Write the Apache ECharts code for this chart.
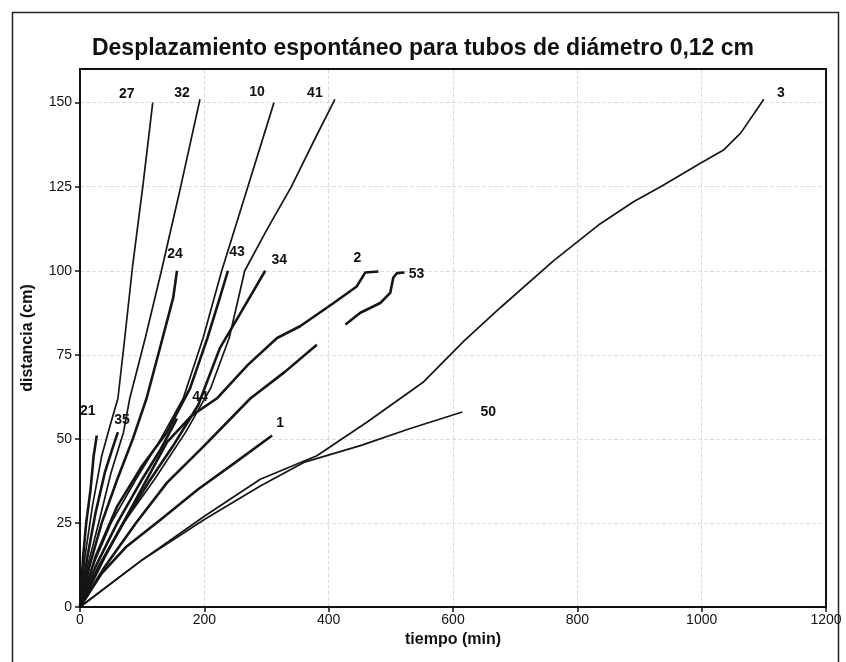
<!DOCTYPE html>
<html><head><meta charset="utf-8">
<script src="https://cdn.jsdelivr.net/npm/echarts@6/dist/echarts.min.js"></script>
<style>html,body{margin:0;padding:0;background:#fff}#c{width:846px;height:662px}</style>
</head><body><div id="c"></div>
<script>
// ---- data (tiempo [min], distancia [cm]) ----
var title = "Desplazamiento espontáneo para tubos de diámetro 0,12 cm";
var xName = "tiempo (min)";
var yName = "distancia (cm)";
var xTicks = [0, 200, 400, 600, 800, 1000, 1200];
var yTicks = [0, 25, 50, 75, 100, 125, 150];

var s27 = [[0,0],[8,15],[20,30],[35,45],[50,55],[61,62],[72,80],[85,102],[101,125],[117,150]];
var s32 = [[0,0],[12,12],[30,25],[50,40],[70,52],[80,62],[105,80],[131,100],[162,125],[193,151]];
var s24 = [[0,0],[15,12],[35,25],[60,38],[85,50],[107,62],[130,78],[150,92],[156,100]];
var s10 = [[0,0],[20,12],[50,25],[90,38],[130,50],[166,62],[198,80],[228,100],[270,125],[312,150]];
var s43 = [[0,0],[25,15],[60,30],[100,42],[140,52],[177,65],[205,80],[225,92],[238,100]];
var s41 = [[0,0],[30,12],[70,25],[120,38],[170,52],[210,65],[240,80],[265,100],[300,112],[340,125],[380,140],[410,151]];
var s34 = [[0,0],[30,12],[70,25],[110,37],[150,48],[190,60],[225,77],[260,88],[298,100]];
var s2  = [[0,0],[40,15],[90,32],[140,49],[180,57],[220,62],[270,72],[317,80],[354,83.5],[408,90.4],[445,95.3],[459,99.5],[480,99.8]];
var s53 = [[427,84],[451,87.5],[483,90.4],[499,93.4],[504,98],[510,99.3],[522,99.5]];
var sU  = [[0,0],[40,12],[90,25],[140,37],[200,48],[274,62],[330,70],[381,78]];
var s44 = [[0,0],[25,12],[60,25],[100,38],[130,47],[156,56]];
var s1  = [[0,0],[35,10],[75,18],[130,26],[190,35],[250,43],[309,51]];
var s21 = [[0,0],[5,15],[10,25],[17,35],[22,45],[27,51]];
var s35 = [[0,0],[12,15],[25,28],[40,40],[52,47],[61,52]];
var s3  = [[0,0],[100,14],[200,27],[290,38],[381,45],[462,55],[553,67],[617,79],[676,89],[762,103],[837,114],[891,120.6],[934,125],[998,132],[1036,136],[1063,141],[1100,151]];
var s50 = [[0,0],[100,14],[200,26],[290,36],[360,43],[451,48],[530,53],[615,58]];

var seriesList = [
  {name:'27', data:s27, hairy:false, off:[-26,-8]},
  {name:'32', data:s32, hairy:false, off:[-18,-6]},
  {name:'24', data:s24, hairy:true,  off:[-2,-17]},
  {name:'10', data:s10, hairy:false, off:[-17,-10]},
  {name:'43', data:s43, hairy:true,  off:[9,-19]},
  {name:'41', data:s41, hairy:false, off:[-20,-6]},
  {name:'34', data:s34, hairy:true,  off:[14,-11]},
  {name:'2',  data:s2,  hairy:true,  off:[-21,-13]},
  {name:'53', data:s53, hairy:true,  off:[12,2]},
  {name:'',   data:sU,  hairy:true,  off:[0,0]},
  {name:'44', data:s44, hairy:true,  off:[23,-22]},
  {name:'1',  data:s1,  hairy:true,  off:[8,-12]},
  {name:'21', data:s21, hairy:true,  off:[-9,-24]},
  {name:'35', data:s35, hairy:true,  off:[4,-12]},
  {name:'3',  data:s3,  hairy:false, off:[17,-6]},
  {name:'50', data:s50, hairy:false, off:[26,0]}
];

var chart = echarts.init(document.getElementById('c'), null, {renderer:'canvas'});
var FONT = 'Liberation Sans, Arial, sans-serif';

var series = seriesList.map(function(s){
  return {
    type:'line', name:s.name, data:s.data, showSymbol:false, symbol:'none', smooth:false,
    lineStyle:{color:'#151515', width: s.hairy ? 2.6 : 1.7},
    endLabel:{show: !!s.name, formatter:s.name, align:'center', verticalAlign:'middle',
      distance:0, offset:s.off, color:'#111', fontSize:14, fontWeight:'bold', fontFamily:FONT},
    silent:true, z:3
  };
});

chart.setOption({
  animation:false,
  backgroundColor:'#fff',
  title:{text:title, left:'center', top:32,
    textStyle:{fontFamily:FONT, fontSize:23, fontWeight:'bold', color:'#111'}},
  grid:{left:80, top:69, right:20, bottom:55, show:false},
  xAxis:{type:'value', min:xTicks[0], max:xTicks[xTicks.length-1], interval:200,
    name:xName, nameLocation:'middle', nameGap:20,
    nameTextStyle:{fontFamily:FONT, fontSize:16, fontWeight:'bold', color:'#111'},
    axisLine:{show:true, lineStyle:{color:'#111', width:2}},
    axisTick:{show:true, inside:false, length:5, lineStyle:{color:'#111', width:1.5}},
    axisLabel:{fontFamily:FONT, fontSize:14, color:'#111', margin:6,
      formatter:function(v){ return String(v); }},
    splitLine:{show:true, lineStyle:{color:'#dcdcdc', type:'dashed', width:1}}},
  yAxis:{type:'value', min:0, max:160, interval:25,
    name:yName, nameLocation:'middle', nameGap:44,
    nameTextStyle:{fontFamily:FONT, fontSize:16, fontWeight:'bold', color:'#111'},
    axisLine:{show:true, lineStyle:{color:'#111', width:2}},
    axisTick:{show:true, inside:false, length:5, lineStyle:{color:'#111', width:1.5}},
    axisLabel:{fontFamily:FONT, fontSize:14, color:'#111', margin:8, showMaxLabel:false,
      formatter:function(v){ return yTicks.indexOf(v) >= 0 ? String(v) : ''; }},
    splitLine:{show:true, lineStyle:{color:'#dcdcdc', type:'dashed', width:1}}},
  graphic:[
    {type:'rect', shape:{x:12.5, y:12.5, width:826, height:660},
      style:{fill:'none', stroke:'#222', lineWidth:1.5}, silent:true, z:10},
    {type:'rect', shape:{x:80, y:69, width:746, height:538},
      style:{fill:'none', stroke:'#111', lineWidth:2}, silent:true, z:10}
  ],
  series:series
});
</script></body></html>
